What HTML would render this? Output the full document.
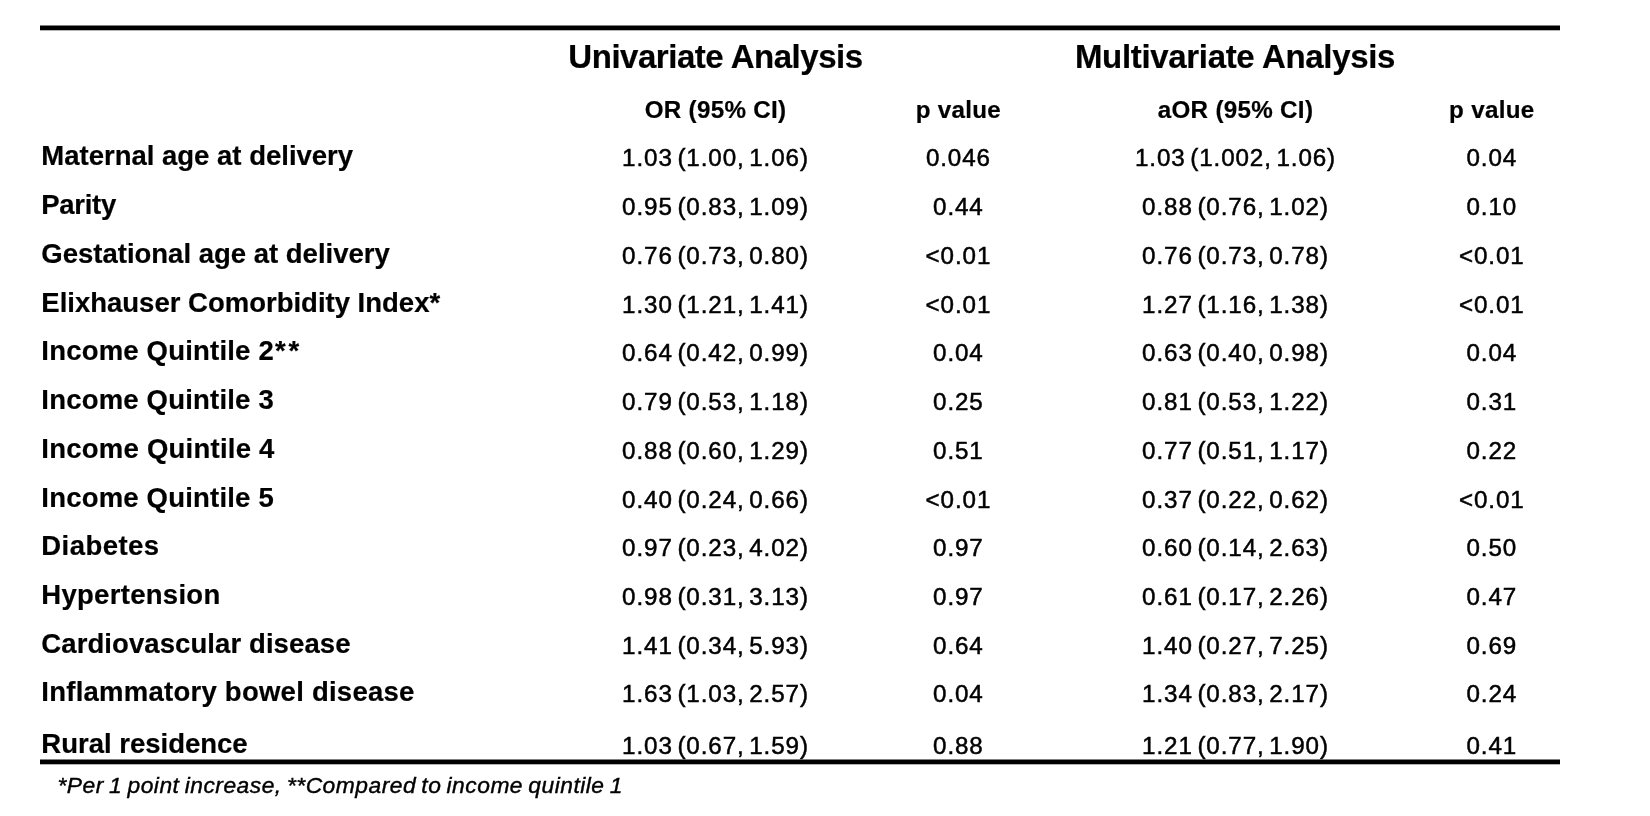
<!DOCTYPE html>
<html lang="en"><head><meta charset="utf-8"><title>Odds ratios table</title>
<style>
html,body{margin:0;padding:0;background:#fff;}
body{width:1650px;height:816px;position:relative;overflow:hidden;will-change:transform;color:#000;font-family:"Liberation Sans",Arial,sans-serif;}
.t{position:absolute;white-space:nowrap;}
.c{text-align:center;width:400px;}
.rule{position:absolute;background:#000;box-shadow:0 -1px 0 rgba(0,0,0,0.5),0 1px 0 rgba(0,0,0,0.3);}
.lab{font-weight:700;-webkit-text-stroke:0.2px;font-size:27.5px;line-height:28px;letter-spacing:0px;}
.num{font-weight:400;-webkit-text-stroke:0.5px;font-size:24.2px;line-height:24px;letter-spacing:0.9px;word-spacing:-3px;}
.grp{font-weight:700;-webkit-text-stroke:0.2px;font-size:33px;line-height:33px;letter-spacing:-0.4px;}
.sub{font-weight:700;-webkit-text-stroke:0.2px;font-size:24.2px;line-height:24px;letter-spacing:0.3px;word-spacing:0px;}
.note{font-style:italic;-webkit-text-stroke:0.4px;font-size:22.8px;line-height:23px;letter-spacing:0.5px;word-spacing:-1.6px;}
</style></head><body>

<div class="rule" style="left:40px;width:1520px;top:26px;height:4px"></div>
<div class="t c grp" style="left:515.50px;top:40.00px;letter-spacing:-0.47px">Univariate Analysis</div>
<div class="t c grp" style="left:1035.00px;top:40.00px;letter-spacing:-0.33px">Multivariate Analysis</div>
<div class="t c sub" style="left:515.50px;top:98.00px">OR (95% CI)</div>
<div class="t c sub" style="left:758.40px;top:98.00px">p value</div>
<div class="t c sub" style="left:1035.50px;top:98.00px">aOR (95% CI)</div>
<div class="t c sub" style="left:1291.80px;top:98.00px">p value</div>
<div class="t lab" style="left:41.3px;top:142.00px">Maternal age at delivery</div>
<div class="t c num" style="left:515.50px;top:146.00px">1.03 (1.00, 1.06)</div>
<div class="t c num" style="left:758.40px;top:146.00px">0.046</div>
<div class="t c num" style="left:1035.50px;top:146.00px">1.03 (1.002, 1.06)</div>
<div class="t c num" style="left:1291.80px;top:146.00px">0.04</div>
<div class="t lab" style="left:41.3px;top:191.00px;letter-spacing:-0.3px">Parity</div>
<div class="t c num" style="left:515.50px;top:195.00px">0.95 (0.83, 1.09)</div>
<div class="t c num" style="left:758.40px;top:195.00px">0.44</div>
<div class="t c num" style="left:1035.50px;top:195.00px">0.88 (0.76, 1.02)</div>
<div class="t c num" style="left:1291.80px;top:195.00px">0.10</div>
<div class="t lab" style="left:41.3px;top:240.00px">Gestational age at delivery</div>
<div class="t c num" style="left:515.50px;top:244.00px">0.76 (0.73, 0.80)</div>
<div class="t c num" style="left:758.40px;top:244.00px">&lt;0.01</div>
<div class="t c num" style="left:1035.50px;top:244.00px">0.76 (0.73, 0.78)</div>
<div class="t c num" style="left:1291.80px;top:244.00px">&lt;0.01</div>
<div class="t lab" style="left:41.3px;top:289.00px">Elixhauser Comorbidity Index*</div>
<div class="t c num" style="left:515.50px;top:293.00px">1.30 (1.21, 1.41)</div>
<div class="t c num" style="left:758.40px;top:293.00px">&lt;0.01</div>
<div class="t c num" style="left:1035.50px;top:293.00px">1.27 (1.16, 1.38)</div>
<div class="t c num" style="left:1291.80px;top:293.00px">&lt;0.01</div>
<div class="t lab" style="left:41.3px;top:337.00px;letter-spacing:0.2px">Income Quintile 2<span style="letter-spacing:3px;margin-left:1px">**</span></div>
<div class="t c num" style="left:515.50px;top:341.00px">0.64 (0.42, 0.99)</div>
<div class="t c num" style="left:758.40px;top:341.00px">0.04</div>
<div class="t c num" style="left:1035.50px;top:341.00px">0.63 (0.40, 0.98)</div>
<div class="t c num" style="left:1291.80px;top:341.00px">0.04</div>
<div class="t lab" style="left:41.3px;top:386.00px;letter-spacing:0.2px">Income Quintile 3</div>
<div class="t c num" style="left:515.50px;top:390.00px">0.79 (0.53, 1.18)</div>
<div class="t c num" style="left:758.40px;top:390.00px">0.25</div>
<div class="t c num" style="left:1035.50px;top:390.00px">0.81 (0.53, 1.22)</div>
<div class="t c num" style="left:1291.80px;top:390.00px">0.31</div>
<div class="t lab" style="left:41.3px;top:435.00px;letter-spacing:0.24px">Income Quintile 4</div>
<div class="t c num" style="left:515.50px;top:439.00px">0.88 (0.60, 1.29)</div>
<div class="t c num" style="left:758.40px;top:439.00px">0.51</div>
<div class="t c num" style="left:1035.50px;top:439.00px">0.77 (0.51, 1.17)</div>
<div class="t c num" style="left:1291.80px;top:439.00px">0.22</div>
<div class="t lab" style="left:41.3px;top:484.00px;letter-spacing:0.2px">Income Quintile 5</div>
<div class="t c num" style="left:515.50px;top:488.00px">0.40 (0.24, 0.66)</div>
<div class="t c num" style="left:758.40px;top:488.00px">&lt;0.01</div>
<div class="t c num" style="left:1035.50px;top:488.00px">0.37 (0.22, 0.62)</div>
<div class="t c num" style="left:1291.80px;top:488.00px">&lt;0.01</div>
<div class="t lab" style="left:41.3px;top:532.00px;letter-spacing:0.46px">Diabetes</div>
<div class="t c num" style="left:515.50px;top:536.00px">0.97 (0.23, 4.02)</div>
<div class="t c num" style="left:758.40px;top:536.00px">0.97</div>
<div class="t c num" style="left:1035.50px;top:536.00px">0.60 (0.14, 2.63)</div>
<div class="t c num" style="left:1291.80px;top:536.00px">0.50</div>
<div class="t lab" style="left:41.3px;top:581.00px;letter-spacing:0.29px">Hypertension</div>
<div class="t c num" style="left:515.50px;top:585.00px">0.98 (0.31, 3.13)</div>
<div class="t c num" style="left:758.40px;top:585.00px">0.97</div>
<div class="t c num" style="left:1035.50px;top:585.00px">0.61 (0.17, 2.26)</div>
<div class="t c num" style="left:1291.80px;top:585.00px">0.47</div>
<div class="t lab" style="left:41.3px;top:630.00px;letter-spacing:0.09px">Cardiovascular disease</div>
<div class="t c num" style="left:515.50px;top:634.00px">1.41 (0.34, 5.93)</div>
<div class="t c num" style="left:758.40px;top:634.00px">0.64</div>
<div class="t c num" style="left:1035.50px;top:634.00px">1.40 (0.27, 7.25)</div>
<div class="t c num" style="left:1291.80px;top:634.00px">0.69</div>
<div class="t lab" style="left:41.3px;top:678.00px;letter-spacing:0.25px">Inflammatory bowel disease</div>
<div class="t c num" style="left:515.50px;top:682.00px">1.63 (1.03, 2.57)</div>
<div class="t c num" style="left:758.40px;top:682.00px">0.04</div>
<div class="t c num" style="left:1035.50px;top:682.00px">1.34 (0.83, 2.17)</div>
<div class="t c num" style="left:1291.80px;top:682.00px">0.24</div>
<div class="t lab" style="left:41.3px;top:730.00px">Rural residence</div>
<div class="t c num" style="left:515.50px;top:734.00px">1.03 (0.67, 1.59)</div>
<div class="t c num" style="left:758.40px;top:734.00px">0.88</div>
<div class="t c num" style="left:1035.50px;top:734.00px">1.21 (0.77, 1.90)</div>
<div class="t c num" style="left:1291.80px;top:734.00px">0.41</div>
<div class="rule" style="left:40px;width:1520px;top:760px;height:4px"></div>
<div class="t note" style="left:57.5px;top:774.00px">*Per 1 point increase, **Compared to income quintile 1</div>
</body></html>
